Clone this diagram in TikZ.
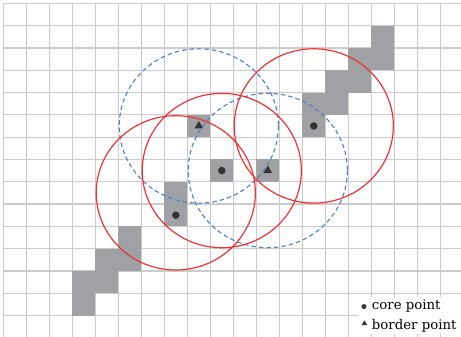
\documentclass[tikz,border=0pt]{standalone}
\usepackage{fontspec}
\setmainfont{DejaVu Serif}
\usetikzlibrary{shapes.geometric}
\definecolor{gridgray}{HTML}{CBCBCB}
\definecolor{cellgray}{HTML}{A0A1A5}
\definecolor{markgray}{HTML}{333333}
\definecolor{ringred}{HTML}{EE3338}
\definecolor{ringblue}{HTML}{4F7FC4}
\begin{document}
\begin{tikzpicture}[x=23pt,y=-22.3pt,
  gridline/.style = {draw=gridgray,line width=1.2pt},
  core/.style = {circle,fill=markgray,inner sep=0pt,minimum size=7.5pt},
  border/.style = {regular polygon,regular polygon sides=3,fill=markgray,inner sep=0pt,minimum size=10pt},
  redring/.style = {draw=ringred,line width=1.2pt},
  bluering/.style = {draw=ringblue,line width=1.1pt,dash pattern=on 4.5pt off 3pt},
  legendtext/.style = {anchor=base west,inner sep=0pt,font=\fontsize{13.3}{16}\selectfont}]
\clip (-0.1435,-0.148) rectangle (19.9,14.964);
\fill[white] (-0.1435,-0.148) rectangle (19.9,14.964);

% grid
\foreach \c in {0,...,19}
  \draw[gridline] (\c,0) -- (\c,15.2);
\foreach \r in {0,...,14}
  \draw[gridline] (0,\r) -- (20.2,\r);

% occupied cells
\foreach \c/\r in {16/1,15/2,16/2,14/3,15/3,13/4,14/4,13/5,8/5,9/7,11/7,
                   7/8,7/9,5/10,4/11,5/11,3/12,4/12,3/13}
  \fill[cellgray] (\c,\r) rectangle ++(1,1);

% neighbourhoods
\coordinate (c1) at (7.5,8.5);
\coordinate (c2) at (9.5,7.5);
\coordinate (c3) at (13.5,5.5);
\coordinate (b1) at (8.5,5.5);
\coordinate (b2) at (11.5,7.5);
\draw[bluering] (b1) circle [radius=3.46];
\draw[bluering] (b2) circle [radius=3.46];
\draw[redring] (c1) circle [radius=3.46];
\draw[redring] (c2) circle [radius=3.46];
\draw[redring] (c3) circle [radius=3.46];

% points
\node[core] (p1) at (7.5,9.5) {};
\node[core] (p2) at (9.5,7.5) {};
\node[core] (p3) at (13.5,5.5) {};
\node[border] (q1) at (8.5,5.5) {};
\node[border] (q2) at (11.5,7.5) {};

% legend
\fill[white] (15.42,13.17) rectangle (20,14.83);
\node[core,minimum size=5pt] (kcore) at (15.68,13.6) {};
\node[border,minimum size=6.5pt] (kborder) at (15.70,14.36) {};
\node[legendtext] (lcore) at (16.02,13.75) {core point};
\node[legendtext] (lborder) at (16.02,14.62) {border point};
\end{tikzpicture}
\end{document}
